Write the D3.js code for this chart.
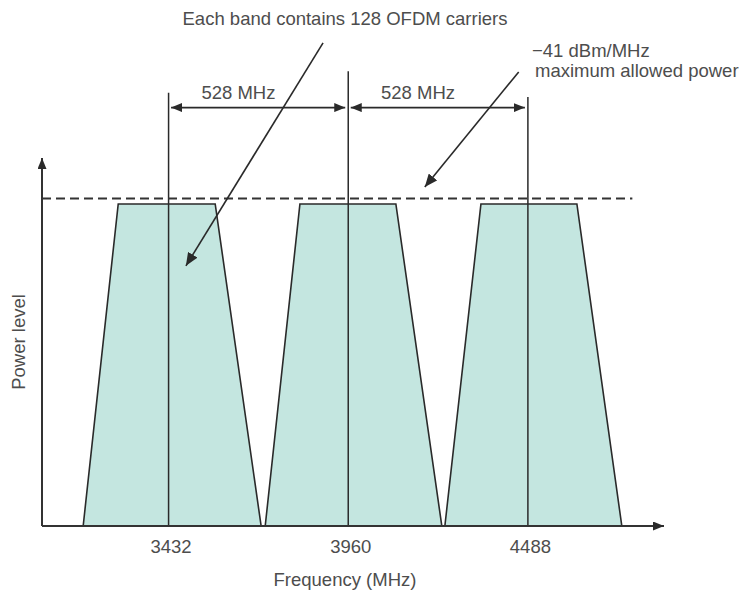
<!DOCTYPE html>
<html>
<head>
<meta charset="utf-8">
<script src="https://cdn.jsdelivr.net/npm/d3@7"></script>
<style>
  html, body { margin: 0; padding: 0; background: #fff; }
  svg { display: block; }
  text { font-family: "Liberation Sans", Arial, sans-serif; fill: #4d4d4d; }
</style>
</head>
<body>
<svg id="chart" width="745" height="591"></svg>
<script>
// ---------------- data ----------------
const bandCenters = [3432, 3960, 4488];           // MHz
const tickLabels = ["3432", "3960", "4488"];
const bandLowEdge  = [3181, 3716, 4244];           // MHz, bottom-left corner
const bandLowTop   = [3284, 3818, 4350];           // MHz, top-left corner
const bandHighTop  = [3569, 4100, 4632];           // MHz, top-right corner
const bandHighEdge = [3704, 4235, 4764];           // MHz, bottom-right corner
const bandLevel = 87.5;                            // relative power level of band tops
const limitLevel = 89.0;                           // -41 dBm/MHz limit
const spacingLabels = ["528 MHz", "528 MHz"];
const titleText = "Each band contains 128 OFDM carriers";
const limitText = ["\u221241 dBm/MHz", "maximum allowed power"];
const xTitle = "Frequency (MHz)";
const yTitle = "Power level";

// ---------------- layout ----------------
const svg = d3.select("#chart");
const x = d3.scaleLinear().domain([3060, 4888]).range([42, 664]);
const y = d3.scaleLinear().domain([0, 100]).range([526, 158]);

const ink = "#2a2a2a";

// markers
const defs = svg.append("defs");
function marker(id, len, half) {
  defs.append("marker")
    .attr("id", id)
    .attr("viewBox", `0 ${-half} ${len} ${half * 2}`)
    .attr("refX", len).attr("refY", 0)
    .attr("markerUnits", "userSpaceOnUse")
    .attr("markerWidth", len).attr("markerHeight", half * 2)
    .attr("orient", "auto-start-reverse")
    .append("path")
    .attr("d", `M0,${-half}L${len},0L0,${half}Z`)
    .attr("fill", ink);
}
marker("ah", 11, 4.5);
marker("ahBig", 13, 5.5);

// bands
const bands = bandCenters.map((c, i) => [
  [bandLowEdge[i], 0], [bandLowTop[i], bandLevel],
  [bandHighTop[i], bandLevel], [bandHighEdge[i], 0]
]);
const line = d3.line().x(d => x(d[0])).y(d => y(d[1]));
svg.append("g").selectAll("path").data(bands).join("path")
  .attr("d", d => line(d) + "Z")
  .attr("fill", "#c4e6e0")
  .attr("stroke", ink)
  .attr("stroke-width", 1.6)
  .attr("stroke-linejoin", "miter");

// centre lines
const centreTops = [117.7, 123.6, 116.6];
svg.append("g").selectAll("line").data(bandCenters).join("line")
  .attr("x1", d => x(d)).attr("x2", d => x(d))
  .attr("y1", (d, i) => y(centreTops[i])).attr("y2", y(0))
  .attr("stroke", ink).attr("stroke-width", 1.5);

// axes
svg.append("line")
  .attr("x1", x(3060)).attr("x2", x(3060))
  .attr("y1", y(0)).attr("y2", y(100))
  .attr("stroke", "#333").attr("stroke-width", 2)
  .attr("marker-end", "url(#ah)");
svg.append("line")
  .attr("x1", x(3060)).attr("x2", x(4888))
  .attr("y1", y(0)).attr("y2", y(0))
  .attr("stroke", "#333").attr("stroke-width", 2)
  .attr("marker-end", "url(#ah)");

// tick labels via axis
const xAxis = d3.axisBottom(x).tickValues(bandCenters)
  .tickFormat((d, i) => tickLabels[i]).tickSize(0).tickPadding(0);
const gx = svg.append("g").attr("transform", `translate(2,${y(0)})`).call(xAxis);
gx.select(".domain").remove();
gx.selectAll("text")
  .attr("dy", null).attr("y", 27)
  .style("font-size", "18.5px")
  .style("font-family", "'Liberation Sans', Arial, sans-serif")
  .attr("fill", "#4d4d4d");

// dashed limit
svg.append("line")
  .attr("x1", x(3060)).attr("x2", x(4795))
  .attr("y1", y(limitLevel)).attr("y2", y(limitLevel))
  .attr("stroke", "#333").attr("stroke-width", 2)
  .attr("stroke-dasharray", "9,5");

// spacing double arrows
const arrowLevel = 113.7;
for (let i = 0; i < bandCenters.length - 1; i++) {
  svg.append("line")
    .attr("x1", x(bandCenters[i]) + 2.5).attr("x2", x(bandCenters[i + 1]) - 3)
    .attr("y1", y(arrowLevel)).attr("y2", y(arrowLevel))
    .attr("stroke", ink).attr("stroke-width", 1.6)
    .attr("marker-start", "url(#ah)").attr("marker-end", "url(#ah)");
  const mid = (bandCenters[i] + bandCenters[i + 1]) / 2;
  svg.append("text")
    .attr("x", x(mid) - 20).attr("y", y(116))
    .attr("text-anchor", "middle")
    .style("font-size", "18.5px")
    .text(spacingLabels[i]);
}

// annotation pointers
const pointers = [
  { from: [3886, 131.3], to: [3483, 70.7] },
  { from: [4461, 123.4], to: [4185, 92.1] }
];
svg.append("g").selectAll("line").data(pointers).join("line")
  .attr("x1", d => x(d.from[0])).attr("y1", d => y(d.from[1]))
  .attr("x2", d => x(d.to[0])).attr("y2", d => y(d.to[1]))
  .attr("stroke", ink).attr("stroke-width", 1.6)
  .attr("marker-end", "url(#ahBig)");

// texts
svg.append("text")
  .attr("x", 345).attr("y", 25)
  .attr("text-anchor", "middle")
  .style("font-size", "18.5px")
  .text(titleText);
svg.append("text").attr("x", 532).attr("y", 57)
  .style("font-size", "18.5px").text(limitText[0]);
svg.append("text").attr("x", 535).attr("y", 77)
  .style("font-size", "18.5px").text(limitText[1]);
svg.append("text")
  .attr("x", 345).attr("y", 586)
  .attr("text-anchor", "middle")
  .style("font-size", "18.5px")
  .text(xTitle);
svg.append("text")
  .attr("transform", "translate(25,342) rotate(-90)")
  .attr("text-anchor", "middle")
  .style("font-size", "18.5px")
  .text(yTitle);
</script>
</body>
</html>
